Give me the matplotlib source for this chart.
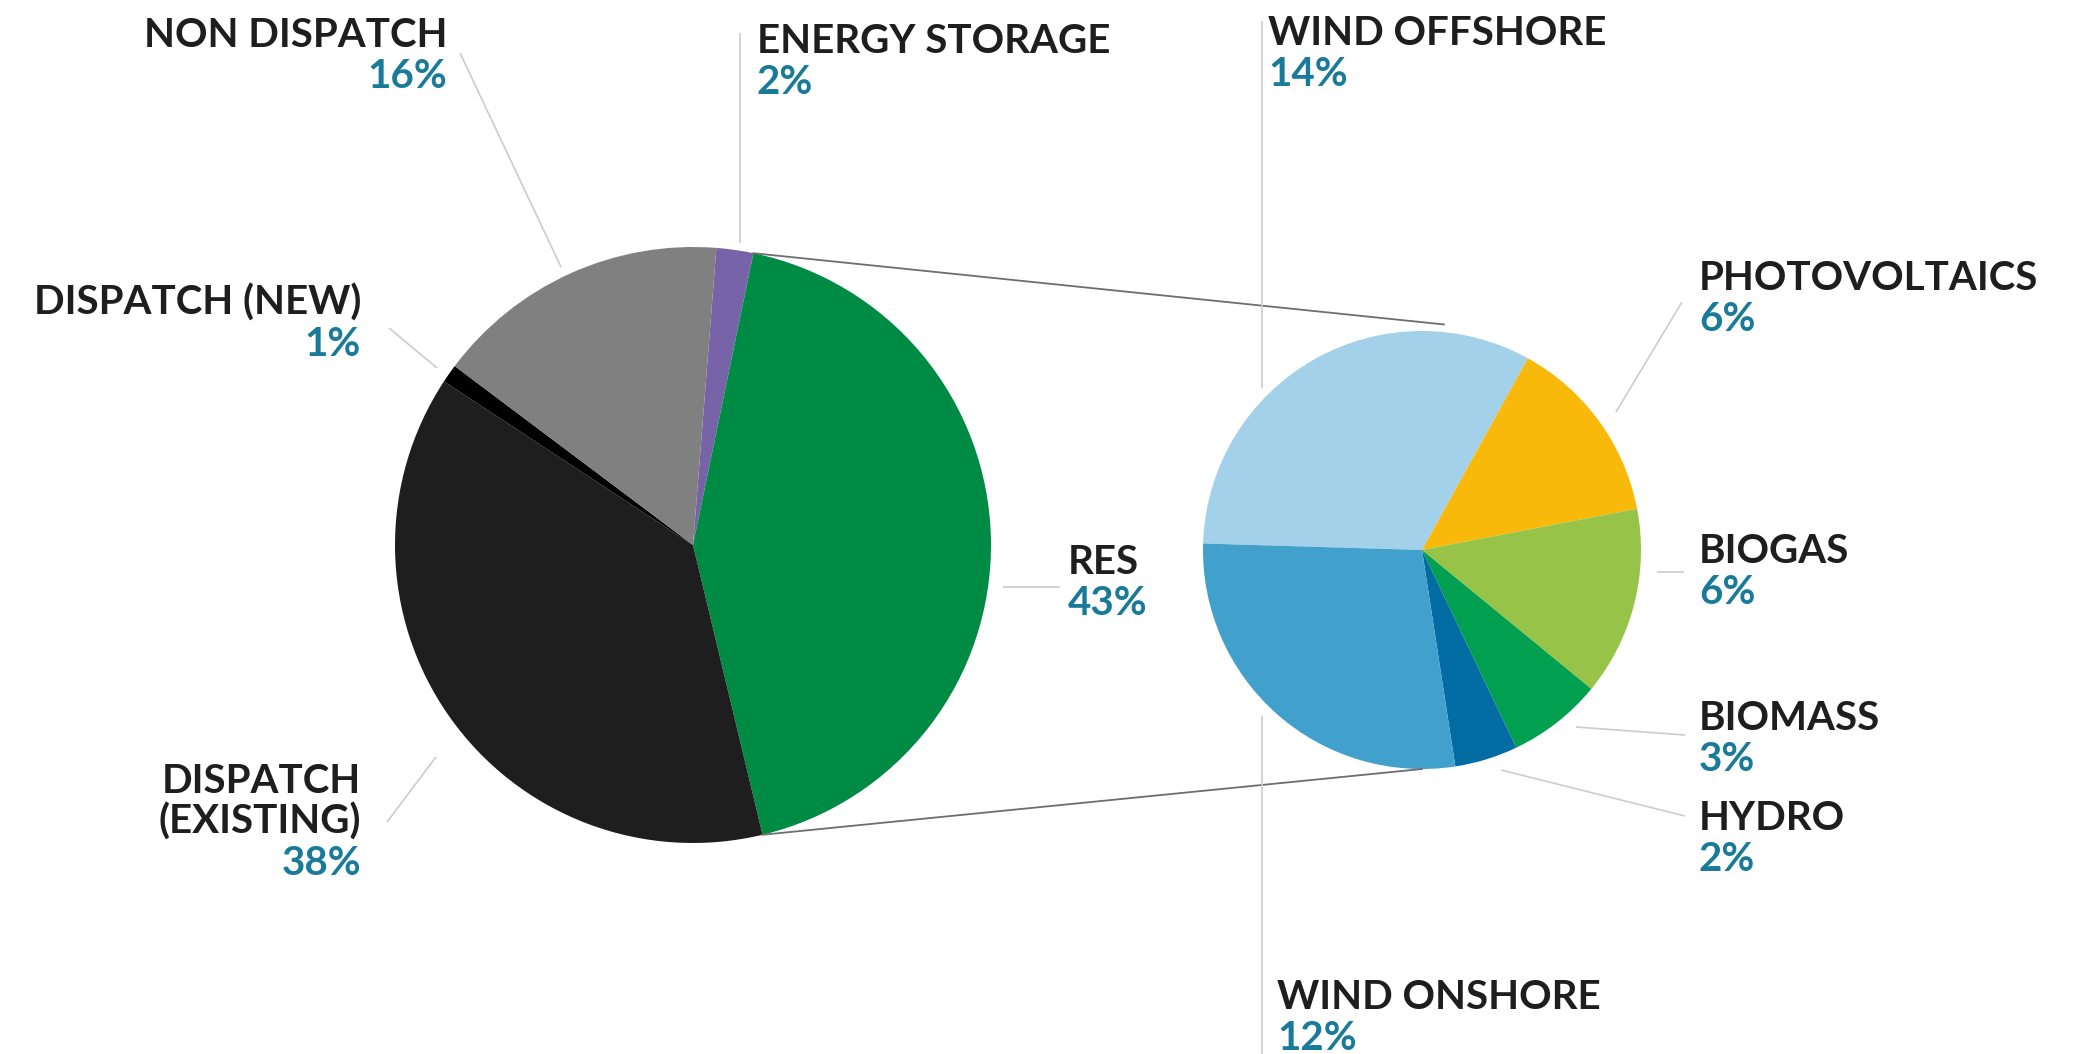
#!/usr/bin/env python3

import matplotlib

matplotlib.use("Agg")
import matplotlib.pyplot as plt
import numpy as np

W, H = 2078, 1054

# overall capacity mix
mix_labels = ["ENERGY STORAGE", "RES", "DISPATCH\n(EXISTING)", "DISPATCH (NEW)", "NON DISPATCH"]
mix_values = [2, 43, 38, 1, 16]
mix_colors = ["#7763a8", "#008b45", "#1e1e1e", "#000000", "#808080"]

# breakdown of the RES share
res_labels = ["WIND OFFSHORE", "PHOTOVOLTAICS", "BIOGAS", "BIOMASS", "HYDRO", "WIND ONSHORE"]
res_values = [14, 6, 6, 3, 2, 12]
res_colors = ["#a3d1ea", "#f9b90a", "#98c349", "#00a050", "#036ca3", "#42a0cc"]

NAME_COLOR = "#1e1e1e"
PCT_COLOR = "#1a7a99"
LEADER_COLOR = "#cccccc"
FONT = "Lato"
FS = 29
LINE = 41


def fy(y):
    # layout is written top-down in pixels
    return H - y


def label(ax, x, y, name, pct, ha="left"):
    lines = name.split("\n")
    for i, ln in enumerate(lines):
        ax.text(x, fy(y + i * LINE), ln, ha=ha, va="baseline", fontsize=FS,
                fontfamily=FONT, fontweight="bold", color=NAME_COLOR)
    ax.text(x, fy(y + len(lines) * LINE), pct, ha=ha, va="baseline", fontsize=FS,
            fontfamily=FONT, fontweight="bold", color=PCT_COLOR)


def leader(ax, x0, y0, x1, y1, color=LEADER_COLOR, lw=1.2):
    ax.plot([x0, x1], [fy(y0), fy(y1)], color=color, lw=lw, solid_capstyle="butt")


def main():
    fig = plt.figure(figsize=(W / 100, H / 100), dpi=100)
    ax = fig.add_axes([0, 0, 1, 1])

    c1, r1 = (693, fy(545)), 298
    c2, r2 = (1422, fy(550)), 219

    w1, _ = ax.pie(mix_values, colors=mix_colors, center=c1, radius=r1,
                   startangle=85.5, counterclock=False,
                   wedgeprops=dict(linewidth=0))
    ax.pie(res_values, colors=res_colors, center=c2, radius=r2,
           startangle=178.3, counterclock=False,
           wedgeprops=dict(linewidth=0))

    # connectors from the RES wedge to the breakdown pie
    res = w1[1]
    t_top, t_bot = np.radians(res.theta2), np.radians(res.theta1)
    p_top = (c1[0] + r1 * np.cos(t_top), c1[1] + r1 * np.sin(t_top))
    p_bot = (c1[0] + r1 * np.cos(t_bot), c1[1] + r1 * np.sin(t_bot))
    ax.plot([p_top[0], c2[0] + 0.1 * r2], [p_top[1], c2[1] + 1.03 * r2],
            color="#6e6e6e", lw=1.3)
    ax.plot([p_bot[0], c2[0]], [p_bot[1], c2[1] - r2],
            color="#6e6e6e", lw=1.3)

    # leader lines
    leader(ax, 460, 53, 561, 267)
    leader(ax, 740, 33, 740, 243)
    leader(ax, 389, 328, 437, 368)
    leader(ax, 436, 757, 387, 822)
    leader(ax, 1003, 587, 1060, 587)
    leader(ax, 1262, 21, 1262, 388)
    leader(ax, 1262, 716, 1262, 1054)
    leader(ax, 1682, 302, 1616, 412)
    leader(ax, 1657, 572, 1684, 572)
    leader(ax, 1576, 727, 1685, 735)
    leader(ax, 1501, 770, 1685, 816)

    pos1 = {
        "ENERGY STORAGE": (757, 53, "left"),
        "RES": (1068, 574, "left"),
        "DISPATCH\n(EXISTING)": (361, 793, "right"),
        "DISPATCH (NEW)": (361, 315, "right"),
        "NON DISPATCH": (447, 47, "right"),
    }
    for name, v in zip(mix_labels, mix_values):
        x, y, ha = pos1[name]
        label(ax, x, y, name, f"{v}%", ha)

    pos2 = {
        "WIND OFFSHORE": (1268, 45),
        "PHOTOVOLTAICS": (1699, 290),
        "BIOGAS": (1699, 563),
        "BIOMASS": (1699, 730),
        "HYDRO": (1699, 830),
        "WIND ONSHORE": (1277, 1009),
    }
    for name, v in zip(res_labels, res_values):
        x, y = pos2[name]
        label(ax, x, y, name, f"{v}%")

    ax.set_xlim(0, W)
    ax.set_ylim(0, H)
    ax.set_aspect("equal")
    ax.axis("off")
    fig.savefig("out.png", dpi=100, facecolor="white")


if __name__ == "__main__":
    main()
